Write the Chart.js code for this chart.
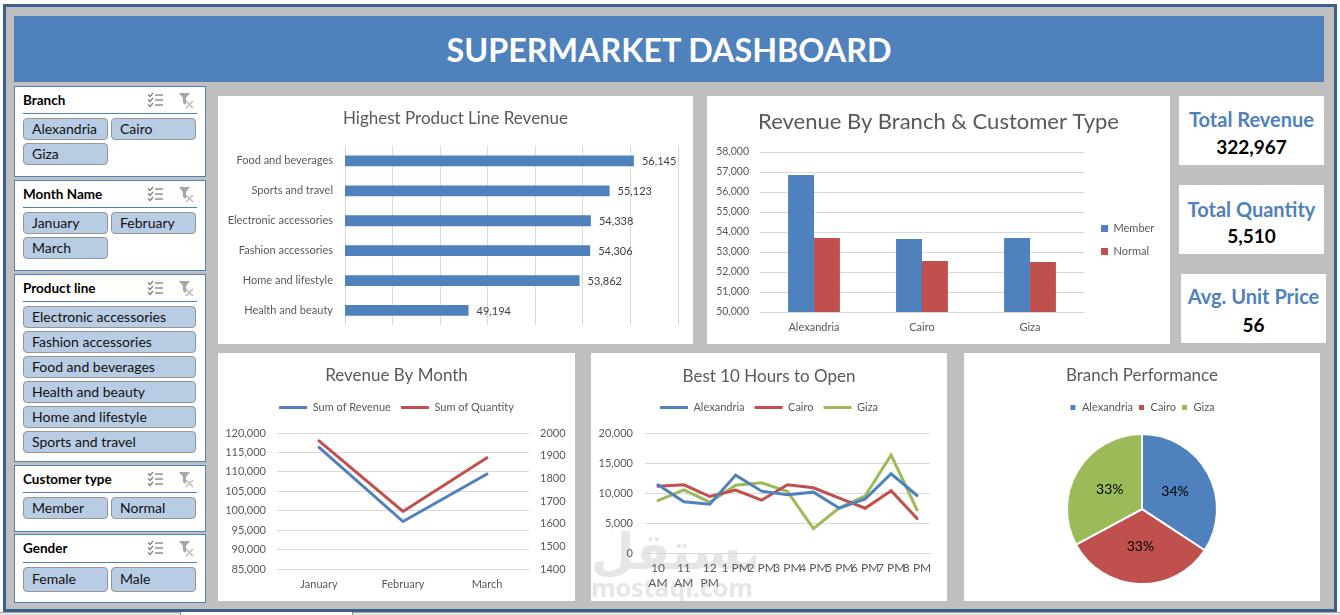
<!DOCTYPE html>
<html>
<head>
<meta charset="utf-8">
<title>Supermarket Dashboard</title>
<script src="https://cdn.jsdelivr.net/npm/chart.js@4/dist/chart.umd.min.js"></script>
<style>
  html, body { margin: 0; padding: 0; background: #fff; }
  body { width: 1340px; height: 615px; position: relative; overflow: hidden; font-family: "Lato", sans-serif; }
  .abs { position: absolute; }
  #frame { left: 3px; top: 4px; width: 1328px; height: 602px; background: #bfbfbf; border: 3px solid #3b5f8e; }
  #tabstrip { left: 0; top: 612px; width: 1340px; height: 3px; background: #e6e6e6; border-top: 1px solid #a6a6a6; box-sizing: border-box; }
  #tab { left: 180px; top: 612px; width: 173px; height: 3px; background: #fff; border-left: 1px solid #8c8c8c; border-right: 1px solid #8c8c8c; box-sizing: border-box; }
  #header { left: 14px; top: 16px; width: 1310px; height: 66px; background: #4f81bd; color: #fff; font-weight: 700; font-size: 32.3px; line-height: 67px; text-align: center; }
  .panel { position: absolute; background: #fff; }
  .panel canvas { position: absolute; left: 0; top: 0; }
  .slicer { position: absolute; left: 14px; width: 190px; background: #fff; border: 1px solid #4f81bd; }
  .slicer .name { position: absolute; left: 8px; top: 4px; font-weight: 700; font-size: 13.5px; line-height: 18px; color: #000; }
  .slicer .rule { position: absolute; left: 8px; width: 174px; top: 26px; height: 1px; background: #4f81bd; }
  .slicer svg { position: absolute; top: 5px; }
  .slicer .items { position: absolute; left: 8px; top: 31px; display: grid; grid-template-columns: 85px 85px; gap: 3px; }
  .slicer .items.wide { grid-template-columns: 173px; }
  .slicer .btn { height: 22px; line-height: 19px; box-sizing: border-box; background: #b8cce4; border: 1px solid #959595; border-radius: 4px; padding-left: 8px; font-size: 14px; color: #111; white-space: nowrap; }
  #s-gender .btn { height: 25px; line-height: 22px; }
  #s-gender .rule { top: 27px; }
  #s-gender .items { top: 32px; }
  .kpi { position: absolute; background: #fff; width: 145px; height: 69px; text-align: center; font-weight: 700; }
  .kpi .label { position: absolute; left: 0; right: 0; top: 11px; font-size: 20px; line-height: 24px; color: #4f81bd; white-space: nowrap; }
  .kpi .value { position: absolute; left: 0; right: 0; top: 39px; font-size: 19px; line-height: 24px; color: #000; }
  #mark { position: absolute; left: 0; top: 170px; width: 165px; height: 78px; color: #e6e6e6; overflow: hidden; }
  #mark .ar { position: absolute; left: 0; top: -6px; width: 160px; text-align: center; font: 700 50px "DejaVu Sans"; line-height: 70px; }
  #mark .en { position: absolute; left: 0; top: 50px; width: 160px; text-align: center; font: 700 25px "Open Sans"; line-height: 28px; }
</style>
</head>
<body>
<div class="abs" id="tabstrip"></div>
<div class="abs" id="frame"></div>
<div class="abs" id="tab"></div>
<div class="abs" id="header">SUPERMARKET DASHBOARD</div>

<div id="slicers"></div>

<div class="panel" style="left:218px;top:96px;width:475px;height:248px"><canvas id="product-chart" width="475" height="248"></canvas></div>
<div class="panel" style="left:707px;top:96px;width:463px;height:248px"><canvas id="branch-chart" width="463" height="248"></canvas></div>
<div class="kpi" style="left:1179px;top:96px"><div class="label">Total Revenue</div><div class="value">322,967</div></div>
<div class="kpi" style="left:1179px;top:185px"><div class="label" style="top:12px">Total Quantity</div><div class="value">5,510</div></div>
<div class="kpi" style="left:1181px;top:274px"><div class="label" style="top:10px">Avg. Unit Price</div><div class="value">56</div></div>
<div class="panel" style="left:218px;top:353px;width:357px;height:248px"><canvas id="month-chart" width="357" height="248"></canvas></div>
<div class="panel" style="left:591px;top:353px;width:356px;height:248px">
  <div id="mark"><div class="ar">مستقل</div><div class="en">mostaql.com</div></div>
  <canvas id="hours-chart" width="356" height="248"></canvas>
</div>
<div class="panel" style="left:964px;top:353px;width:356px;height:248px"><canvas id="pie-chart" width="356" height="248"></canvas></div>

<script>
// Dashboard data
const branches = ["Alexandria", "Cairo", "Giza"];
const months = ["January", "February", "March"];
const productSlicer = ["Electronic accessories", "Fashion accessories", "Food and beverages", "Health and beauty", "Home and lifestyle", "Sports and travel"];
const customerTypes = ["Member", "Normal"];
const genders = ["Female", "Male"];

const productLines = ["Food and beverages", "Sports and travel", "Electronic accessories", "Fashion accessories", "Home and lifestyle", "Health and beauty"];
const productRevenue = [56145, 55123, 54338, 54306, 53862, 49194];

const memberRevenue = [56850, 53650, 53700];
const normalRevenue = [53700, 52550, 52500];

const monthRevenue = [116292, 97219, 109456];
const monthQuantity = [1965, 1654, 1891];

const hourLabels = [["10", "AM"], ["11", "AM"], ["12", "PM"], "1 PM", "2 PM", "3 PM", "4 PM", "5 PM", "6 PM", "7 PM", "8 PM"];
const alexandriaHours = [11365, 8524, 8134, 12980, 10306, 9694, 10139, 7465, 9025, 13203, 9582];
const cairoHours = [11142, 11365, 9415, 10473, 8802, 11365, 10863, 9136, 7465, 10362, 5738];
const gizaHours = [8746, 10529, 8468, 11309, 11699, 10250, 4067, 7521, 9526, 16323, 7187];

const branchTotals = [110569, 106200, 106198];

const BLUE = "#4f81bd";
const RED = "#c0504d";
const GREEN = "#9bbb59";
const GRID = "#d9d9d9";
const TEXT = "#595959";

const slicers = [
  { id: "s-branch", name: "Branch", items: branches, top: 86, height: 89 },
  { id: "s-month", name: "Month Name", items: months, top: 180, height: 89 },
  { id: "s-product", name: "Product line", items: productSlicer, top: 274, height: 186, wide: true },
  { id: "s-customer", name: "Customer type", items: customerTypes, top: 465, height: 65 },
  { id: "s-gender", name: "Gender", items: genders, top: 534, height: 67 },
];

const listIcon =
  '<svg style="left:132px" width="18" height="16" viewBox="0 0 18 16" fill="none" stroke="#7f7f7f">' +
  '<path d="M1 2.5l2 2 3-3.5M1 7.5l2 2 3-3.5M1 12.5l2 2 3-3.5" stroke-width="1.2"/>' +
  '<path d="M8 3h8M8 8h8M8 13h8" stroke="#595959"/></svg>';
const clearIcon =
  '<svg style="left:163px" width="18" height="17" viewBox="0 0 18 17">' +
  '<path d="M1 1h11l-4 5v7l-3-2V6z" fill="#a6a6a6"/>' +
  '<path d="M8 9l7 7M15 9l-7 7" stroke="#bfbfbf" stroke-width="1.6"/></svg>';

const slicerRoot = document.getElementById("slicers");
slicers.forEach((s) => {
  const box = document.createElement("div");
  box.className = "slicer";
  box.id = s.id;
  box.style.top = s.top + "px";
  box.style.height = s.height + "px";
  box.innerHTML =
    '<div class="name">' + s.name + "</div>" + listIcon + clearIcon + '<div class="rule"></div>' +
    '<div class="items' + (s.wide ? " wide" : "") + '">' +
    s.items.map((item) => '<div class="btn">' + item + "</div>").join("") +
    "</div>";
  slicerRoot.appendChild(box);
});

Chart.defaults.font.family = "Lato";
Chart.defaults.color = TEXT;
Chart.defaults.animation = false;
Chart.defaults.responsive = false;
Chart.defaults.plugins.tooltip.enabled = false;

function fmt(v) {
  return v.toLocaleString("en-US");
}

function titleOpts(text, size, top, bottom) {
  return {
    display: true,
    text: text,
    color: TEXT,
    font: { size: size, weight: "normal" },
    padding: { top: top, bottom: bottom },
  };
}

// Pin the axis boxes so the plot areas line up across the row
function fixSide(w, top) {
  return (axis) => {
    axis.width = w;
    axis.paddingTop = top;
  };
}
function fixBottom(h, right) {
  return (axis) => {
    axis.height = h;
    axis.paddingRight = right;
    axis.paddingLeft = 0;
  };
}

// Value labels at the end of each bar
const barLabels = {
  id: "barLabels",
  afterDatasetsDraw(chart) {
    const ctx = chart.ctx;
    const bars = chart.getDatasetMeta(0).data;
    ctx.save();
    ctx.font = "11px Lato";
    ctx.fillStyle = "#404040";
    ctx.textBaseline = "middle";
    bars.forEach((bar, i) => {
      ctx.fillText(fmt(productRevenue[i]), bar.x + 8, bar.y + 1);
    });
    ctx.restore();
  },
};

// Percentages in the middle of each slice
const pieLabels = {
  id: "pieLabels",
  afterDatasetsDraw(chart) {
    const ctx = chart.ctx;
    const total = branchTotals.reduce((a, b) => a + b, 0);
    ctx.save();
    ctx.font = "14px Lato";
    ctx.fillStyle = "#000";
    ctx.textAlign = "center";
    ctx.textBaseline = "middle";
    chart.getDatasetMeta(0).data.forEach((arc, i) => {
      const p = arc.getCenterPoint();
      ctx.fillText(Math.round((branchTotals[i] / total) * 100) + "%", p.x, p.y);
    });
    ctx.restore();
  },
};

// Moves the side legend of the column chart
const nudgeLegend = {
  id: "nudgeLegend",
  afterLayout(chart) {
    chart.legend.top += 20;
    chart.legend.bottom += 20;
    chart.legend.left += 5;
    chart.legend.right += 5;
  },
};

// Keeps title and legend up top when the plot starts lower down
const liftHeader = (dy) => ({
  id: "liftHeader",
  afterLayout(chart) {
    [chart.titleBlock, chart.legend].forEach((box) => {
      box.top -= dy;
      box.bottom -= dy;
    });
  },
});

new Chart(document.getElementById("product-chart"), {
  type: "bar",
  data: {
    labels: productLines,
    datasets: [{ data: productRevenue, backgroundColor: BLUE, barPercentage: 0.36, categoryPercentage: 1 }],
  },
  options: {
    indexAxis: "y",
    plugins: {
      legend: { display: false },
      title: titleOpts("Highest Product Line Revenue", 17, 12, 17.6),
    },
    scales: {
      x: {
        min: 44000,
        max: 58000,
        ticks: { display: false, stepSize: 2000 },
        grid: { color: GRID, drawTicks: false },
        border: { display: false },
        afterFit: fixBottom(18, 15),
      },
      y: {
        ticks: { font: { size: 11 }, color: TEXT, padding: 12 },
        grid: { display: false, drawTicks: false },
        border: { display: false },
        afterFit: fixSide(127, 0),
      },
    },
  },
  plugins: [barLabels],
});

new Chart(document.getElementById("branch-chart"), {
  type: "bar",
  data: {
    labels: branches,
    datasets: [
      { label: "Member", data: memberRevenue, backgroundColor: BLUE, barPercentage: 1, categoryPercentage: 0.48 },
      { label: "Normal", data: normalRevenue, backgroundColor: RED, barPercentage: 1, categoryPercentage: 0.48 },
    ],
  },
  options: {
    plugins: {
      legend: {
        position: "right",
        labels: { boxWidth: 7, boxHeight: 7, padding: 12, font: { size: 11 }, color: TEXT },
      },
      title: titleOpts("Revenue By Branch & Customer Type", 22, 13, 16.6),
    },
    scales: {
      x: {
        ticks: { font: { size: 11 }, color: TEXT, padding: 9 },
        grid: { display: false, drawTicks: false },
        border: { color: GRID },
        afterFit: fixBottom(32, 86),
      },
      y: {
        min: 50000,
        max: 58000,
        ticks: { stepSize: 1000, font: { size: 10.5 }, color: TEXT, padding: 11, callback: (v) => fmt(v) },
        grid: { color: GRID, drawTicks: false },
        border: { display: false },
        afterFit: fixSide(53, 0),
      },
    },
  },
  plugins: [nudgeLegend],
});

new Chart(document.getElementById("month-chart"), {
  type: "line",
  data: {
    labels: months,
    datasets: [
      { label: "Sum of Revenue", data: monthRevenue, yAxisID: "y", borderColor: BLUE, backgroundColor: BLUE, borderWidth: 3, pointRadius: 0, pointStyle: "line", borderCapStyle: "round", tension: 0 },
      { label: "Sum of Quantity", data: monthQuantity, yAxisID: "y1", borderColor: RED, backgroundColor: RED, borderWidth: 3, pointRadius: 0, pointStyle: "line", borderCapStyle: "round", tension: 0 },
    ],
  },
  options: {
    plugins: {
      legend: {
        labels: { usePointStyle: true, pointStyleWidth: 28, padding: 10, font: { size: 11 }, color: TEXT },
      },
      title: titleOpts("Revenue By Month", 17, 12, 6.6),
    },
    scales: {
      x: {
        offset: true,
        ticks: { font: { size: 11 }, color: TEXT, padding: 9 },
        grid: { display: false, drawTicks: false },
        border: { color: GRID },
        afterFit: fixBottom(32, 0),
      },
      y: {
        min: 85000,
        max: 120000,
        ticks: { stepSize: 5000, font: { size: 11 }, color: TEXT, padding: 11, callback: (v) => fmt(v) },
        grid: { color: GRID, drawTicks: false },
        border: { display: false },
        afterFit: fixSide(59, 80),
      },
      y1: {
        position: "right",
        min: 1400,
        max: 2000,
        ticks: { stepSize: 100, font: { size: 11 }, color: TEXT, padding: 11, callback: (v) => String(v) },
        grid: { display: false, drawTicks: false },
        border: { display: false },
        afterFit: fixSide(46, 80),
      },
    },
  },
  plugins: [liftHeader(10)],
});

const lineSeries = (label, data, color) => ({
  label: label,
  data: data,
  borderColor: color,
  backgroundColor: color,
  borderWidth: 3,
  pointRadius: 0,
  pointStyle: "line",
  borderCapStyle: "round",
  tension: 0,
});

new Chart(document.getElementById("hours-chart"), {
  type: "line",
  data: {
    labels: hourLabels,
    datasets: [
      lineSeries(branches[0], alexandriaHours, BLUE),
      lineSeries(branches[1], cairoHours, RED),
      lineSeries(branches[2], gizaHours, GREEN),
    ],
  },
  options: {
    plugins: {
      legend: {
        labels: { usePointStyle: true, pointStyleWidth: 28, padding: 10, font: { size: 11 }, color: TEXT },
      },
      title: titleOpts("Best 10 Hours to Open", 17, 13, 5.4),
    },
    scales: {
      x: {
        offset: true,
        ticks: { font: { size: 12, lineHeight: 1.25 }, color: TEXT, padding: 8, maxRotation: 0, autoSkip: false },
        grid: { display: false, drawTicks: false },
        border: { color: GRID },
        afterFit: fixBottom(48, 17),
      },
      y: {
        min: 0,
        max: 20000,
        ticks: { stepSize: 5000, font: { size: 11 }, color: TEXT, padding: 12, callback: (v) => fmt(v) },
        grid: { color: GRID, drawTicks: false },
        border: { display: false },
        afterFit: fixSide(54, 80),
      },
    },
  },
  plugins: [liftHeader(10)],
});

new Chart(document.getElementById("pie-chart"), {
  type: "pie",
  data: {
    labels: branches,
    datasets: [{ data: branchTotals, backgroundColor: [BLUE, RED, GREEN], borderColor: "#fff", borderWidth: 2, radius: 75 }],
  },
  options: {
    layout: { padding: { bottom: 5.8 } },
    plugins: {
      legend: {
        labels: { boxWidth: 7, boxHeight: 7, padding: 5, font: { size: 11 }, color: TEXT },
      },
      title: titleOpts("Branch Performance", 17, 12, 11.6),
    },
  },
  plugins: [pieLabels],
});
</script>
</body>
</html>
